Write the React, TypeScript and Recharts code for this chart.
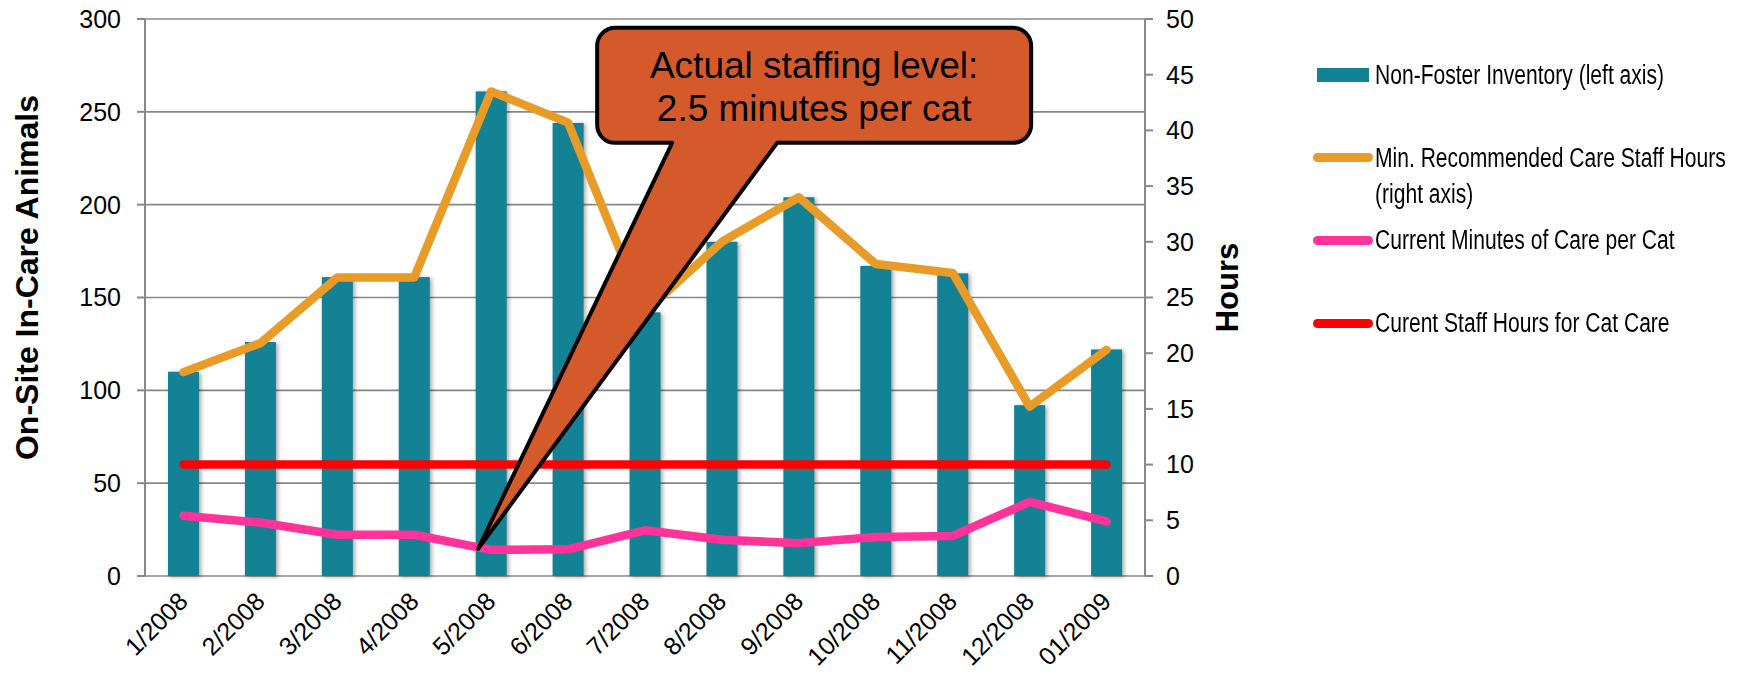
import { Bar, CartesianGrid, ComposedChart, Line, ReferenceDot, XAxis, YAxis } from "recharts";

const MONTHS = [
  "1/2008",
  "2/2008",
  "3/2008",
  "4/2008",
  "5/2008",
  "6/2008",
  "7/2008",
  "8/2008",
  "9/2008",
  "10/2008",
  "11/2008",
  "12/2008",
  "01/2009",
];
// left axis: animals on site
const INVENTORY = [110, 126, 161, 161, 261, 244, 142, 180, 204, 167, 163, 92, 122];
// right axis: hours / minutes
const MIN_STAFF_HOURS = [18.3, 20.9, 26.8, 26.8, 43.5, 40.7, 23.7, 30.0, 34.0, 28.0, 27.2, 15.2, 20.3];
const CARE_MINUTES = [5.4, 4.8, 3.7, 3.7, 2.35, 2.4, 4.1, 3.25, 2.95, 3.5, 3.6, 6.65, 4.9];
const STAFF_HOURS = [10, 10, 10, 10, 10, 10, 10, 10, 10, 10, 10, 10, 10];

const LEFT_TICKS = [0, 50, 100, 150, 200, 250, 300];
const RIGHT_TICKS = [0, 5, 10, 15, 20, 25, 30, 35, 40, 45, 50];
const BOUNDARY_TICKS = [0, 1, 2, 3, 4, 5, 6, 7, 8, 9, 10, 11, 12, 13];

const CALLOUT_MONTH = "5/2008";
const CALLOUT_LINES = ["Actual staffing level:", "2.5 minutes per cat"];

const TEAL = "#148295";
const ORANGE = "#E99B28";
const PINK = "#FF3399";
const RED = "#FF0000";
const CALLOUT_FILL = "#D45A2C";
const AXIS_GREY = "#888888";

const FONT = '"Liberation Sans", Arial, sans-serif';

const LEGEND = [
  { lines: ["Non-Foster Inventory (left axis)"], color: TEAL, kind: "bar" },
  { lines: ["Min. Recommended Care Staff Hours", "(right axis)"], color: ORANGE, kind: "line" },
  { lines: ["Current Minutes of Care per Cat"], color: PINK, kind: "line" },
  { lines: ["Curent Staff Hours for Cat Care"], color: RED, kind: "line" },
];

const data = MONTHS.map((month, i) => ({
  month,
  inventory: INVENTORY[i],
  minHours: MIN_STAFF_HOURS[i],
  minutes: CARE_MINUTES[i],
  staffHours: STAFF_HOURS[i],
}));

function MonthTick({ x, y, payload }: any) {
  const ax = x + 6;
  const ay = y + 27;
  return (
    <text
      x={ax}
      y={ay}
      transform={`rotate(-45, ${ax}, ${ay})`}
      textAnchor="end"
      fontSize={25}
      fill="#000"
    >
      {payload.value}
    </text>
  );
}

function ShadowBar(p: any) {
  if (!p.height) return null;
  return (
    <rect
      x={p.x}
      y={p.y}
      width={p.width}
      height={p.height}
      fill={p.fill}
      style={{ filter: "drop-shadow(2px 1px 2px rgba(0,0,0,0.35))" }}
    />
  );
}

function Callout({ cx, cy }: any) {
  const tipX = cx - 13;
  const tipY = cy - 1;
  const L = tipX + 119;
  const R = tipX + 553;
  const T = tipY - 521;
  const B = tipY - 406;
  const r = 18;
  const baseL = tipX + 194;
  const baseR = tipX + 299;
  const d = `M ${L + r} ${T} H ${R - r} A ${r} ${r} 0 0 1 ${R} ${T + r} V ${B - r} A ${r} ${r} 0 0 1 ${R - r} ${B} H ${baseR} L ${tipX} ${tipY} L ${baseL} ${B} H ${L + r} A ${r} ${r} 0 0 1 ${L} ${B - r} V ${T + r} A ${r} ${r} 0 0 1 ${L + r} ${T} Z`;
  const mid = (L + R) / 2;
  return (
    <g>
      <path d={d} fill={CALLOUT_FILL} stroke="#000" strokeWidth={4} strokeLinejoin="round" />
      {CALLOUT_LINES.map((line, i) => (
        <text key={line} x={mid} y={tipY - 471 + i * 43} textAnchor="middle" fontSize={37} fill="#000">
          {line}
        </text>
      ))}
    </g>
  );
}

function LegendBox() {
  return (
    <div style={{ position: "absolute", left: 1313, top: 0, fontFamily: FONT, fontSize: 27, color: "#000" }}>
      {LEGEND.map((item, i) => (
        <div
          key={item.lines[0]}
          style={{ position: "absolute", top: 57 + i * 82.7, left: 0, display: "flex", whiteSpace: "nowrap", lineHeight: "36.6px" }}
        >
          <div style={{ position: "relative", width: 62, height: 36.6, flexShrink: 0 }}>
            {item.kind === "bar" ? (
              <div style={{ position: "absolute", left: 4, top: 11, width: 52, height: 14, background: item.color }} />
            ) : (
              <div style={{ position: "absolute", left: 0, top: 13.5, width: 60, height: 9, borderRadius: 5, background: item.color }} />
            )}
          </div>
          <div style={{ transform: "scaleX(0.78)", transformOrigin: "left top" }}>
            {item.lines.map((line) => (
              <div key={line}>{line}</div>
            ))}
          </div>
        </div>
      ))}
    </div>
  );
}

export default function App() {
  return (
    <div style={{ position: "absolute", left: 0, top: 0, width: 1758, height: 676, fontFamily: FONT, background: "#fff" }}>
      <ComposedChart width={1758} height={676} data={data} margin={{ top: 19, right: 513, bottom: 0, left: 0 }}>
        <XAxis
          xAxisId="frame"
          type="number"
          domain={[0, 13]}
          ticks={BOUNDARY_TICKS}
          allowDataOverflow
          tick={false}
          tickSize={8}
          height={0}
          stroke={AXIS_GREY}
          strokeWidth={2}
        />
        <XAxis
          xAxisId="cat"
          dataKey="month"
          axisLine={false}
          tickLine={false}
          tickSize={0}
          tickMargin={0}
          interval={0}
          height={100}
          tick={<MonthTick />}
        />
        <YAxis
          yAxisId="left"
          domain={[0, 300]}
          ticks={LEFT_TICKS}
          width={145}
          tickSize={8}
          tickMargin={16}
          stroke={AXIS_GREY}
          strokeWidth={2}
          tick={{ fontSize: 25, fill: "#000" }}
          label={({ viewBox }: any) => {
            const x = viewBox.x + 27;
            const y = viewBox.y + viewBox.height / 2 - 20;
            return (
              <text x={x} y={y} transform={`rotate(-90, ${x}, ${y})`} textAnchor="middle" dominantBaseline="central" fontSize={32} fontWeight="bold" fill="#000">
                On-Site In-Care Animals
              </text>
            );
          }}
        />
        <YAxis
          yAxisId="right"
          orientation="right"
          domain={[0, 50]}
          ticks={RIGHT_TICKS}
          width={100}
          tickSize={8}
          tickMargin={13}
          stroke={AXIS_GREY}
          strokeWidth={2}
          tick={{ fontSize: 25, fill: "#000" }}
          label={({ viewBox }: any) => {
            const x = viewBox.x + 82;
            const y = viewBox.y + viewBox.height / 2 - 10;
            return (
              <text x={x} y={y} transform={`rotate(-90, ${x}, ${y})`} textAnchor="middle" dominantBaseline="central" fontSize={31} fontWeight="bold" fill="#000">
                Hours
              </text>
            );
          }}
        />
        <CartesianGrid xAxisId="cat" yAxisId="left" vertical={false} stroke={AXIS_GREY} strokeWidth={1.6} />
        <Bar
          xAxisId="cat"
          yAxisId="left"
          dataKey="inventory"
          name="Non-Foster Inventory (left axis)"
          fill={TEAL}
          barSize={31}
          shape={<ShadowBar />}
          isAnimationActive={false}
        />
        <Line
          xAxisId="cat"
          yAxisId="right"
          type="linear"
          dataKey="minHours"
          stroke={ORANGE}
          strokeWidth={8.5}
          strokeLinecap="round"
          strokeLinejoin="round"
          dot={false}
          activeDot={false}
          isAnimationActive={false}
        />
        <Line
          xAxisId="cat"
          yAxisId="right"
          type="linear"
          dataKey="staffHours"
          stroke={RED}
          strokeWidth={8.5}
          strokeLinecap="round"
          dot={false}
          activeDot={false}
          isAnimationActive={false}
        />
        <Line
          xAxisId="cat"
          yAxisId="right"
          type="linear"
          dataKey="minutes"
          stroke={PINK}
          strokeWidth={8.5}
          strokeLinecap="round"
          strokeLinejoin="round"
          dot={false}
          activeDot={false}
          isAnimationActive={false}
        />
        <ReferenceDot
          xAxisId="cat"
          yAxisId="right"
          x={CALLOUT_MONTH}
          y={CARE_MINUTES[MONTHS.indexOf(CALLOUT_MONTH)]}
          ifOverflow="visible"
          shape={<Callout />}
        />
      </ComposedChart>
      <LegendBox />
    </div>
  );
}
